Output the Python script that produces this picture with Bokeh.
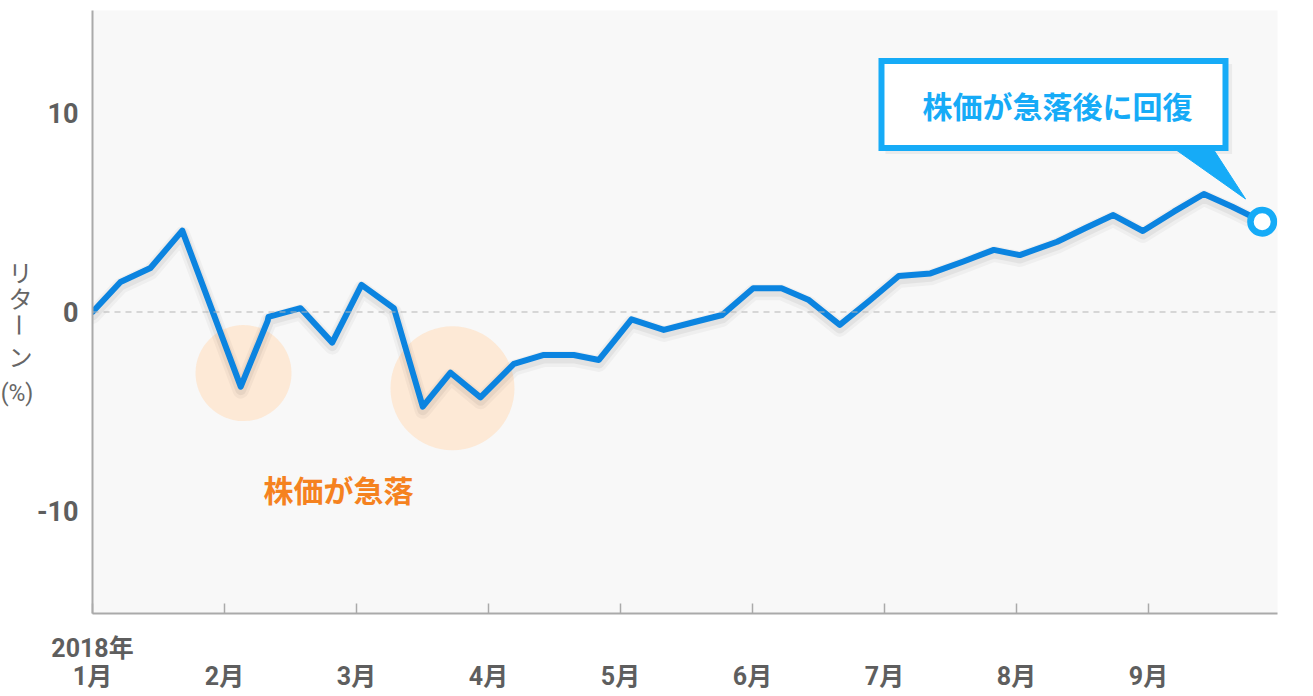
import math
from bokeh.plotting import figure
from bokeh.layouts import row
from bokeh.models import Span, FixedTicker, Range1d
from bokeh.embed import file_html
from bokeh.resources import INLINE
from bokeh.core.properties import value

# ---- data (x in months since 1 Jan 2018, y = return %) ----
week_x = [0.000, 0.212, 0.439, 0.680, 1.123, 1.327, 1.333, 1.576, 1.816, 2.038,
          2.283, 2.502, 2.712, 2.939, 3.192, 3.419, 3.646, 3.836, 4.083, 4.328,
          4.568, 4.770, 5.005, 5.220, 5.427, 5.661, 5.888, 6.108, 6.348, 6.598,
          6.828, 7.025, 7.308, 7.523, 7.733, 7.957, 8.192, 8.419, 8.634, 8.861]
returns = [0.00, 1.51, 2.21, 4.09, -3.75, -0.45, -0.25, 0.19, -1.54, 1.36,
           0.19, -4.76, -3.05, -4.29, -2.61, -2.16, -2.16, -2.41, -0.37, -0.90,
           -0.49, -0.15, 1.19, 1.19, 0.60, -0.65, 0.58, 1.81, 1.94, 2.54,
           3.12, 2.86, 3.53, 4.22, 4.87, 4.07, 5.04, 5.93, 5.29, 4.54]
month_ticks = [0, 1, 2, 3, 4, 5, 6, 7, 8]
month_labels = ["1月", "2月", "3月", "4月", "5月", "6月", "7月", "8月", "9月"]
year_label = "2018年"
y_ticks = [-10, 0, 10]
y_tick_labels = ["-10", "0", "10"]
y_title_chars = ["リ", "タ", "ー", "ン"]
y_title_unit = "(%)"
drop_note = "株価が急落"
recover_note = "株価が急落後に回復"
# highlighted drop regions: centre (month, %) and diameter (px)
drop_x = [1.144, 2.727]
drop_y = [-3.07, -3.83]
drop_size = [96, 124]

BLUE = "#0b84e0"
LIGHT_BLUE = "#16abf7"
ORANGE = "#f5821f"
GRAY_TXT = "#5e5e5e"
AXIS_GRAY = "#aaaaaa"
JP_FONT = "'Noto Sans CJK JP'"
NUM_FONT = "Roboto, 'Noto Sans CJK JP'"

Y0, Y1 = -15.15, 15.15
TOP, FRAME_H = 10, 603
LEFT_W = 33

p = figure(frame_width=1185, frame_height=FRAME_H, output_backend="svg",
           toolbar_location=None, x_range=Range1d(0, 8.977),
           y_range=Range1d(Y0, Y1),
           min_border_left=57, min_border_top=TOP, min_border_right=20,
           min_border_bottom=70)
p.background_fill_color = "#f8f8f8"
p.border_fill_color = "white"
p.outline_line_color = None
p.grid.visible = False

# axes
xa = p.xaxis[0]
xa.ticker = FixedTicker(ticks=month_ticks)
labels = {}
for t, l in zip(month_ticks, month_labels):
    labels[t] = (year_label + "\n" + l) if t == 0 else ("\n" + l)
xa.major_label_overrides = labels
xa.major_tick_in = 10
xa.major_tick_out = 0
xa.minor_tick_line_color = None
xa.major_tick_line_color = AXIS_GRAY
xa.major_tick_line_width = 1.5
xa.axis_line_color = AXIS_GRAY
xa.axis_line_width = 2
xa.major_label_standoff = 20
xa.major_label_text_font = NUM_FONT
xa.major_label_text_font_size = "25px"
xa.major_label_text_font_style = "bold"
xa.major_label_text_color = GRAY_TXT
xa.major_label_text_line_height = 0.98

ya = p.yaxis[0]
ya.ticker = FixedTicker(ticks=y_ticks)
ya.major_label_overrides = {t: l for t, l in zip(y_ticks, y_tick_labels)}
ya.major_tick_in = 0
ya.major_tick_out = 0
ya.minor_tick_line_color = None
ya.major_tick_line_color = None
ya.axis_line_color = AXIS_GRAY
ya.axis_line_width = 2
ya.major_label_standoff = 14
ya.major_label_text_font = NUM_FONT
ya.major_label_text_font_size = "27px"
ya.major_label_text_font_style = "bold"
ya.major_label_text_color = GRAY_TXT

# zero line
p.add_layout(Span(location=0, dimension="width", line_color="#b5b5b5",
                  line_width=1, line_dash="6 5"))

# drop highlight circles
p.scatter(drop_x, drop_y, size=drop_size, marker="circle",
          fill_color="#fde7d1", line_color=None, fill_alpha=0.9)

# shadow of the line
for off, w, a in [(0.20, 16, 0.035), (0.15, 11, 0.05)]:
    p.line(week_x, [v - off for v in returns], line_color="#000000",
           line_alpha=a, line_width=w, line_join="round", line_cap="round")

# main line
p.line(week_x, returns, line_color=BLUE, line_width=6,
       line_join="round", line_cap="round")

# end marker
p.scatter(week_x[-1:], returns[-1:], marker="circle", size=23.5,
          fill_color="white", line_color=LIGHT_BLUE, line_width=6.5)

# callout box
bx0, bx1, by0, by1 = 5.977, 8.583, 8.24, 12.61
p.quad(left=[bx0 + 0.03], right=[bx1 + 0.05], bottom=[by0 - 0.3], top=[by1 - 0.15],
       fill_color="#000000", fill_alpha=0.05, line_color=None)
p.quad(left=[bx0], right=[bx1], bottom=[by0], top=[by1], fill_color="white",
       line_color=LIGHT_BLUE, line_width=6, line_join="miter")
p.patch([8.189, 8.485, 8.735], [by0, by0, 5.68], fill_color=LIGHT_BLUE,
        line_color=LIGHT_BLUE, line_width=1)
p.text([7.311], [10.40], text=[recover_note], text_font=value(JP_FONT),
       text_font_size="30px", text_font_style="bold", text_color=LIGHT_BLUE,
       text_align="center", text_baseline="middle")

# drop note
p.text([1.864], [-8.89], text=[drop_note], text_font=value(JP_FONT),
       text_font_size="30px", text_font_style="bold", text_color=ORANGE,
       text_align="center", text_baseline="middle")

# ---- narrow left panel holding the vertical y-axis title ----
q = figure(frame_width=LEFT_W, frame_height=FRAME_H, output_backend="svg",
           toolbar_location=None, x_range=Range1d(0, LEFT_W),
           y_range=Range1d(Y0, Y1), x_axis_location=None, y_axis_location=None,
           min_border_left=0, min_border_right=0, min_border_top=TOP,
           min_border_bottom=70)
q.outline_line_color = None
q.grid.visible = False
q.background_fill_color = "white"
q.border_fill_color = "white"

title_x = [20, 20, 20, 20]
title_y = [2.01, 0.75, -0.65, -2.21]
title_angle = [0, 0, -math.pi / 2, 0]
q.text(title_x, title_y, text=y_title_chars, angle=title_angle,
       text_font=value(JP_FONT), text_font_size="24px", text_color="#666666",
       text_align="center", text_baseline="middle")
q.text([16.5], [-4.1], text=[y_title_unit], text_font=value(NUM_FONT),
       text_font_size="23px", text_color="#666666",
       text_align="center", text_baseline="middle")

layout = row(q, p, spacing=0)
open("out.html", "w").write(file_html(layout, INLINE))
